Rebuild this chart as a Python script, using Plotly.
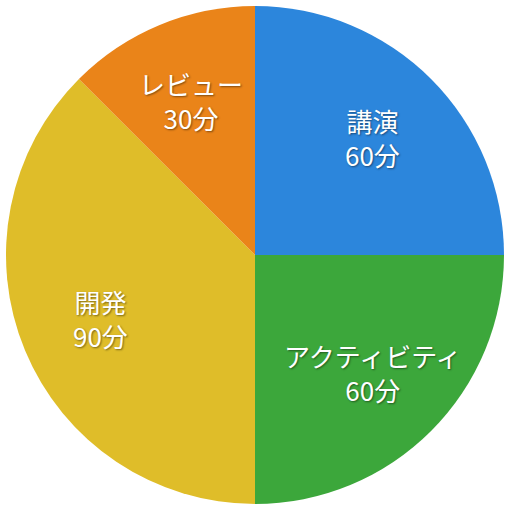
import math
import plotly.graph_objects as go

labels = ["講演", "アクティビティ", "開発", "レビュー"]
minutes = [60, 60, 90, 30]
colors = ["#2C86DC", "#3CA73B", "#DFBD29", "#EA8419"]

texts = [f"{l}<br>{m}分" for l, m in zip(labels, minutes)]

fig = go.Figure(go.Pie(
    labels=labels,
    values=minutes,
    textinfo="none",
    sort=False,
    direction="clockwise",
    rotation=0,
    marker=dict(colors=colors, line=dict(width=0)),
    hoverinfo="skip",
))

# place labels at mid-angle of each slice, derived from the values
total = sum(minutes)
cum = 0
r = 0.335
for t, v in zip(texts, minutes):
    mid = (cum + v / 2) / total * 2 * math.pi
    cum += v
    fig.add_annotation(
        x=0.5 + r * math.sin(mid), y=0.5 + r * math.cos(mid),
        xref="paper", yref="paper", text=t, showarrow=False,
        xanchor="center", yanchor="middle",
        font=dict(family="Noto Sans CJK JP", size=26, color="white",
                  shadow="1px 1px 2px rgba(0,0,0,0.45)"),
    )

fig.update_layout(
    width=510, height=510,
    margin=dict(l=6, r=6, t=6, b=6),
    showlegend=False,
    paper_bgcolor="white",
)
fig.write_html("out.html")
